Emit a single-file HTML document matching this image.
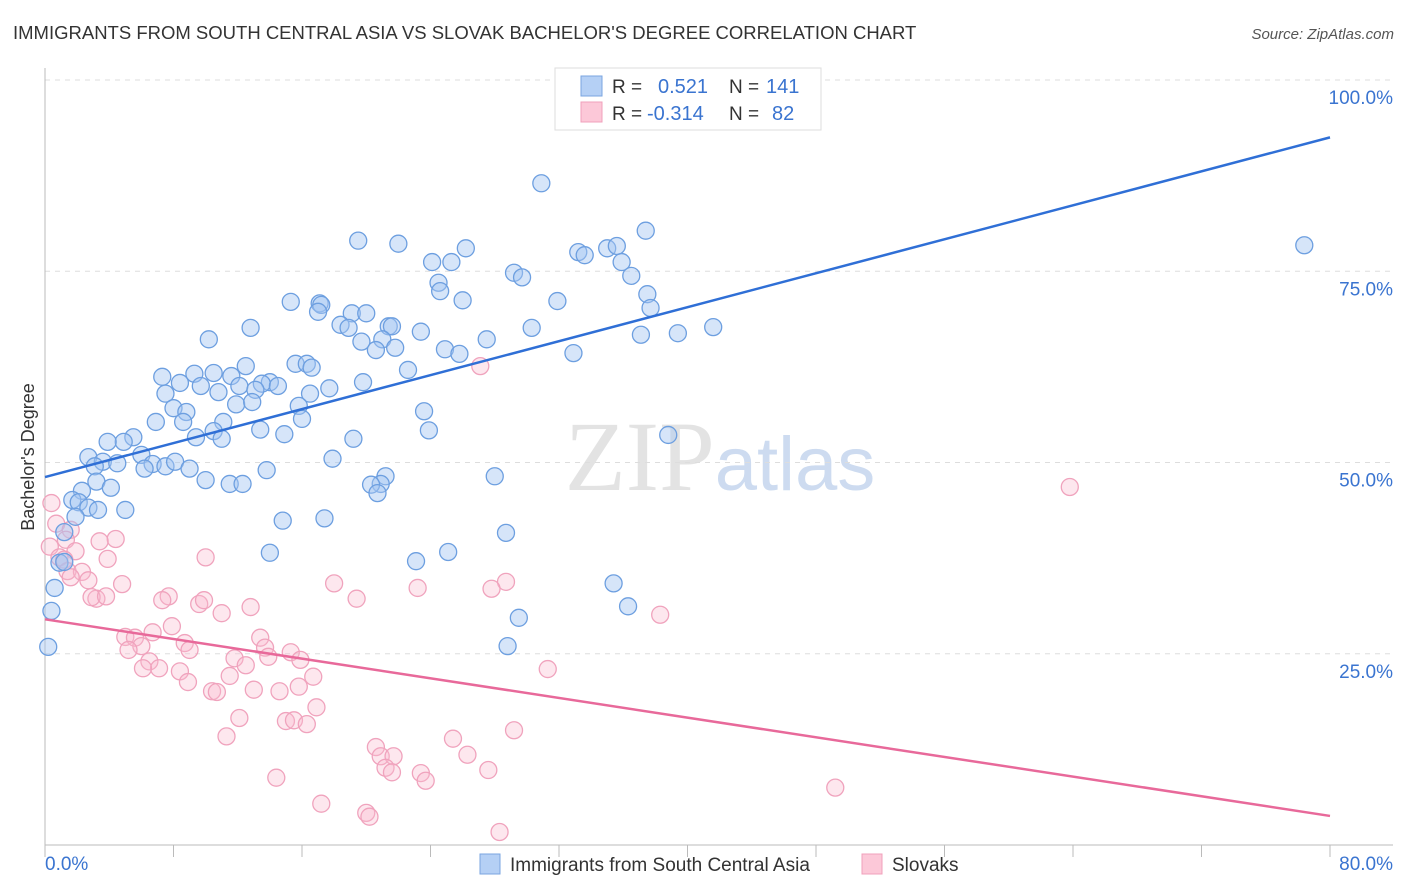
<!DOCTYPE html>
<html><head><meta charset="utf-8"><style>
body{margin:0;background:#fff;font-family:"Liberation Sans",sans-serif}
svg{display:block}
</style></head><body>
<svg id="chart" width="1406" height="892" viewBox="0 0 1406 892" xmlns="http://www.w3.org/2000/svg" font-family="Liberation Sans, sans-serif">
<text x="13" y="39" font-size="18.5" fill="#333">IMMIGRANTS FROM SOUTH CENTRAL ASIA VS SLOVAK BACHELOR'S DEGREE CORRELATION CHART</text>
<text x="1394" y="39" font-size="15" fill="#555" font-style="italic" text-anchor="end">Source: ZipAtlas.com</text>
<text x="720" y="490" font-size="100" text-anchor="middle" fill="#d8d8d8" font-family="Liberation Serif, serif" opacity="0.7">ZIP<tspan fill="#b8cdea" font-family="Liberation Sans, sans-serif" font-size="76">atlas</tspan></text>
<g id="grid"></g>
<g id="axes"></g>
<g id="pts"></g>
<g id="lines"></g>
<text transform="translate(34,457) rotate(-90)" font-size="18" fill="#333" text-anchor="middle">Bachelor's Degree</text>
<g>
<rect x="555" y="68" width="266" height="62" fill="#fff" stroke="#ddd"/>
<rect x="581" y="76" width="21" height="20" fill="#b5d0f5" stroke="#7aa5e0"/>
<rect x="581" y="102" width="21" height="20" fill="#fcc8d8" stroke="#f0a0bb"/>
<text x="612" y="93" font-size="19" fill="#333">R =</text>
<text x="658" y="93" font-size="20" fill="#3a74d0">0.521</text>
<text x="729" y="93" font-size="19" fill="#333">N =</text>
<text x="766" y="93" font-size="20" fill="#3a74d0">141</text>
<text x="612" y="120" font-size="19" fill="#333">R =</text>
<text x="647" y="120" font-size="20" fill="#3a74d0">-0.314</text>
<text x="729" y="120" font-size="19" fill="#333">N =</text>
<text x="772" y="120" font-size="20" fill="#3a74d0">82</text>
</g>
<g>
<rect x="480" y="854" width="20" height="20" fill="#b5d0f5" stroke="#7aa5e0"/>
<text x="510" y="871" font-size="19" fill="#333">Immigrants from South Central Asia</text>
<rect x="862" y="854" width="20" height="20" fill="#fcc8d8" stroke="#f0a0bb"/>
<text x="892" y="871" font-size="19" fill="#333">Slovaks</text>
</g>
</svg>
<script>
const xTickLabels=["0.0%","80.0%"];
const yTicks=[25,50,75,100];
const yTickLabels=["25.0%","50.0%","75.0%","100.0%"];
const blueX=[30.9,78.4,37.4,19.5,22.0,26.2,33.2,33.6,35.0,35.6,24.1,25.3,35.9,29.2,29.7,36.5,24.5,24.6,37.5,31.9,26.0,15.3,17.1,17.2,19.1,20.0,17.0,37.7,18.4,18.9,21.4,21.6,12.8,30.3,41.6,23.4,39.4,37.1,10.2,27.5,21.0,19.7,20.6,21.8,24.9,25.8,32.9,15.6,16.3,16.6,12.5,22.6,9.3,10.5,7.3,11.6,8.4,9.7,14.0,13.5,14.5,12.1,17.7,19.8,10.8,13.1,7.5,16.5,11.9,12.9,8.0,8.8,15.8,23.6,6.9,8.6,11.1,16.0,23.9,13.4,14.9,10.5,9.4,11.0,5.5,4.9,3.9,38.8,19.2,2.7,3.6,4.5,6.0,6.7,6.2,7.5,8.1,3.1,17.9,9.0,13.8,28.0,21.2,20.9,10.0,11.5,12.3,3.2,4.1,20.3,20.7,2.3,1.7,2.1,2.7,3.3,5.0,1.9,17.4,14.8,1.2,28.7,25.1,14.0,23.1,0.9,1.2,0.6,35.4,36.3,0.4,29.5,28.8,0.2];
const blueY=[86.5,78.4,80.3,79.0,78.6,78.0,77.5,77.1,78.0,78.3,76.2,76.2,76.2,74.8,74.2,74.4,73.5,72.4,72.0,71.1,71.2,71.0,70.8,70.6,69.5,69.5,69.7,70.2,68.0,67.6,67.8,67.8,67.6,67.6,67.7,67.1,66.9,66.7,66.1,66.1,66.1,65.8,64.7,65.0,64.8,64.2,64.3,62.9,62.9,62.4,62.6,62.1,61.6,61.7,61.2,61.3,60.4,60.0,60.5,60.3,60.0,60.0,59.7,60.5,59.2,59.5,59.0,59.0,57.6,57.9,57.1,56.6,57.4,56.7,55.3,55.3,55.3,55.7,54.2,54.3,53.7,54.1,53.3,53.1,53.3,52.7,52.7,53.6,53.1,50.7,50.1,49.9,51.0,49.8,49.2,49.5,50.1,49.5,50.5,49.2,49.0,48.2,48.2,47.2,47.7,47.2,47.2,47.5,46.7,47.1,46.0,46.3,45.1,44.8,44.1,43.8,43.8,42.9,42.7,42.4,40.9,40.8,38.3,38.2,37.1,36.9,37.0,33.6,34.2,31.2,30.6,29.7,26.0,25.9];
const pinkX=[27.1,63.8,0.4,0.7,1.6,1.3,4.4,3.4,0.3,1.9,0.9,1.2,10.0,3.9,1.4,2.3,1.6,2.7,4.8,18.0,28.7,27.8,23.2,7.7,7.3,3.2,2.9,3.8,19.4,9.6,9.9,12.8,11.0,38.3,7.9,6.7,5.0,5.6,13.4,6.0,8.7,9.0,5.2,13.7,15.3,13.9,15.9,11.8,6.5,12.5,7.1,6.1,8.4,31.3,11.5,16.7,8.9,15.8,13.0,14.6,10.4,10.7,16.9,12.1,15.0,15.5,16.3,29.2,11.3,25.4,20.6,20.9,21.7,26.3,21.2,21.6,27.6,23.4,23.7,14.4,49.2,17.2,20.0,20.2,28.3];
const pinkY=[62.6,46.8,44.7,42.0,41.2,39.9,40.0,39.7,39.0,38.4,37.6,37.3,37.6,37.4,35.8,35.7,35.0,34.6,34.1,34.2,34.4,33.5,33.6,32.5,32.0,32.2,32.4,32.5,32.2,31.5,32.0,31.1,30.3,30.1,28.6,27.8,27.2,27.1,27.1,26.0,26.4,25.5,25.5,25.8,25.2,24.6,24.2,24.4,24.0,23.5,23.1,23.1,22.7,23.0,22.1,22.0,21.3,20.7,20.3,20.1,20.1,20.0,18.0,16.6,16.2,16.3,15.8,15.0,14.2,13.9,12.8,11.6,11.6,11.8,10.1,9.5,9.8,9.4,8.4,8.8,7.5,5.4,4.2,3.7,1.7];
const blueTrend=[48.1,92.5];
const pinkTrend=[29.5,3.8];
const NS="http://www.w3.org/2000/svg";
const X0=45,X1=1330,Y0=845,YT=80;
function sx(v){return X0+(v/80)*(X1-X0);}
function sy(v){return Y0-(v/100)*(Y0-YT);}
function mk(tag,attrs,parent){const e=document.createElementNS(NS,tag);for(const k in attrs)e.setAttribute(k,attrs[k]);document.getElementById(parent).appendChild(e);return e;}
yTicks.forEach((t,i)=>{
  const g=mk('line',{x1:X0,x2:1393,y1:sy(t),y2:sy(t),stroke:'#ddd','stroke-dasharray':'5,5'},'grid');
  
  
  const l=mk('text',{x:1393,y:sy(t)+24,'font-size':19,fill:'#3a74d0','text-anchor':'end'},'grid');
  l.textContent=yTickLabels[i];
  
  
});
const ax=mk('line',{x1:X0,x2:X0,y1:68,y2:Y0,stroke:'#bbb'},'axes');


const bx=mk('line',{x1:X0,x2:1393,y1:Y0,y2:Y0,stroke:'#bbb'},'axes');


for(let i=0;i<=10;i++){
  const t=mk('line',{x1:sx(i*8),x2:sx(i*8),y1:Y0,y2:Y0+12,stroke:'#bbb'},'axes');
  
  
}
const xl0=mk('text',{x:45,y:870,'font-size':19,fill:'#3a74d0'},'axes');xl0.textContent=xTickLabels[0];


const xl1=mk('text',{x:1393,y:870,'font-size':19,fill:'#3a74d0','text-anchor':'end'},'axes');xl1.textContent=xTickLabels[1];


pinkX.forEach((v,i)=>{
  const c=mk('circle',{cx:sx(v),cy:sy(pinkY[i]),r:8.5,fill:'rgba(248,185,205,0.35)',stroke:'#f0a3bd','stroke-width':1.3},'pts');
  
  
});
blueX.forEach((v,i)=>{
  const c=mk('circle',{cx:sx(v),cy:sy(blueY[i]),r:8.5,fill:'rgba(165,198,242,0.45)',stroke:'#6d9fe0','stroke-width':1.3},'pts');
  
  
});
const bl=mk('line',{x1:sx(0),y1:sy(blueTrend[0]),x2:sx(80),y2:sy(blueTrend[1]),stroke:'#2f6fd6','stroke-width':2.5},'lines');


const pl=mk('line',{x1:sx(0),y1:sy(pinkTrend[0]),x2:sx(80),y2:sy(pinkTrend[1]),stroke:'#e8699a','stroke-width':2.5},'lines');


</script>
</body></html>
